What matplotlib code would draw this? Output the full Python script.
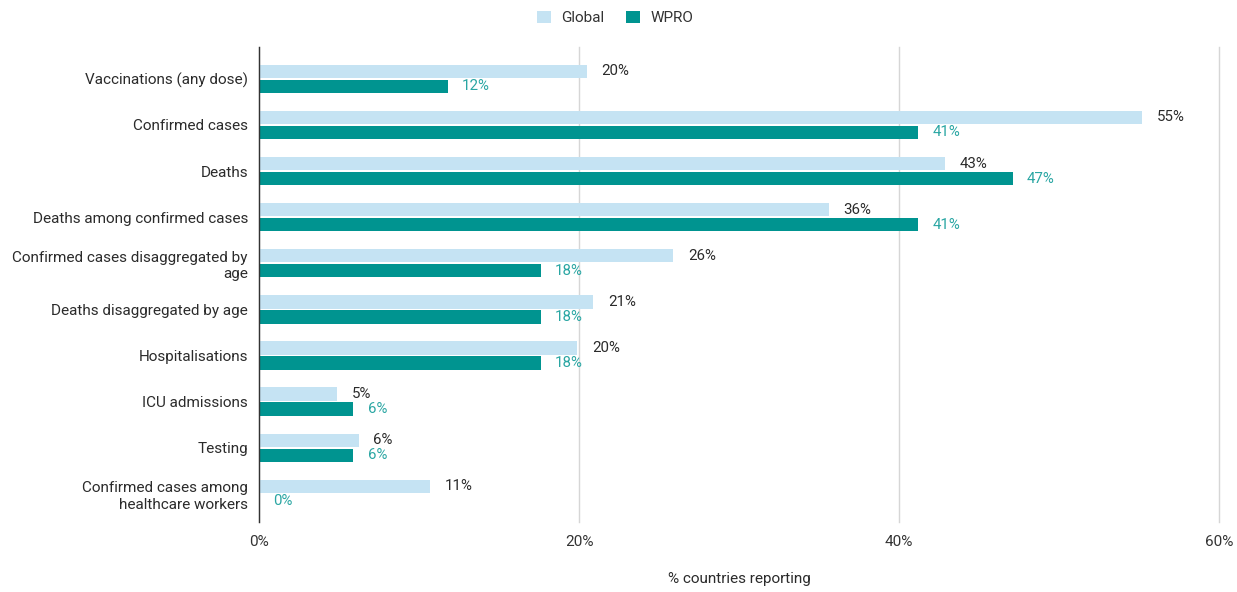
import matplotlib
matplotlib.use("Agg")
import matplotlib.pyplot as plt
import numpy as np

plt.rcParams['font.family'] = ['Roboto', 'DejaVu Sans']

categories = ["Vaccinations (any dose)", "Confirmed cases", "Deaths",
              "Deaths among confirmed cases", "Confirmed cases disaggregated by\nage",
              "Deaths disaggregated by age", "Hospitalisations", "ICU admissions",
              "Testing", "Confirmed cases among\nhealthcare workers"]
global_vals = [20.5, 55.2, 42.9, 35.6, 25.9, 20.9, 19.9, 4.9, 6.25, 10.7]
wpro_vals = [11.8, 41.2, 47.1, 41.2, 17.6, 17.6, 17.6, 5.9, 5.9, 0.0]
xticks = [0, 20, 40, 60]
xticklabels = ["0%", "20%", "40%", "60%"]

c_global = "#c5e3f3"
c_wpro = "#009490"
c_wpro_lbl = "#2aa6a3"
c_text = "#2b2b2b"

fig = plt.figure(figsize=(12.37, 5.92), dpi=100)
ax = fig.add_axes([259/1237, 1-522/592, (1219-259)/1237, (522-47)/592])

y = np.arange(len(categories))
off = 0.163
h = 0.29
ax.barh(y - off, global_vals, height=h, color=c_global, zorder=3, label="Global")
ax.barh(y + off, wpro_vals, height=h, color=c_wpro, zorder=3, label="WPRO")

for yi, g, w in zip(y, global_vals, wpro_vals):
    ax.text(g + 0.9, yi - off, f"{round(g):.0f}%", va='center', ha='left',
            fontsize=10.8, color=c_text)
    ax.text(w + 0.9, yi + off, f"{round(w):.0f}%", va='center', ha='left',
            fontsize=10.8, color=c_wpro_lbl)

ax.set_xlim(0, 60)
ax.set_ylim(9.61, -0.69)
ax.set_yticks(y)
ax.set_yticklabels(categories, fontsize=11, color=c_text)
ax.set_xticks(xticks)
ax.set_xticklabels(xticklabels, fontsize=11, color="#333333")
ax.tick_params(axis='both', length=0)
ax.tick_params(axis='y', pad=8)
ax.tick_params(axis='x', pad=9)
ax.grid(axis='x', color="#d6d6d6", linewidth=1, zorder=0)
for gl in ax.get_xgridlines():
    gl.set_clip_on(False)
for s in ['top', 'right', 'bottom']:
    ax.spines[s].set_visible(False)
ax.spines['left'].set_color("#333333")
ax.spines['left'].set_linewidth(1)
ax.spines['left'].set_zorder(4)
ax.set_xlabel("% countries reporting", fontsize=11, color=c_text, labelpad=17)

fig.legend(loc='upper center', bbox_to_anchor=(615/1237, 1.0 + 3/592), ncol=2, frameon=False,
           fontsize=11, handlelength=0.9, handleheight=0.9, handletextpad=0.7,
           columnspacing=1.4, labelcolor="#333333")

fig.savefig("out.png", dpi=100, facecolor="white")
